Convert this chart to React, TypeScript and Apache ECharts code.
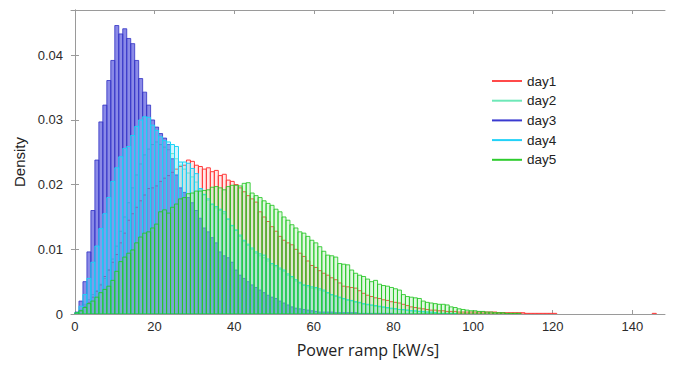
import React, { useEffect, useRef } from "react";
import * as echarts from "echarts";

// Bin width of every histogram [kW/s]; bin k spans [k, k+1]
const binWidth = 1;

const day1 = [
  0.0001, 0.0005, 0.0012, 0.0018, 0.0026, 0.0035, 0.0045, 0.0058, 0.0068, 0.0080,
  0.0092, 0.0110, 0.0125, 0.0145, 0.0155, 0.0165, 0.0175, 0.0184, 0.0194, 0.0195,
  0.0198, 0.0205, 0.0210, 0.0214, 0.0219, 0.0224, 0.0228, 0.0230, 0.0238, 0.0236,
  0.0230, 0.0228, 0.0224, 0.0226, 0.0220, 0.0222, 0.0214, 0.0216, 0.0207, 0.0205,
  0.0200, 0.0195, 0.0189, 0.0183, 0.0178, 0.0173, 0.0158, 0.0150, 0.0143, 0.0135,
  0.0128, 0.0120, 0.0114, 0.0110, 0.0107, 0.0100, 0.0094, 0.0089, 0.0082, 0.0075,
  0.0072, 0.0067, 0.0063, 0.0060, 0.0056, 0.0053, 0.0048, 0.0043, 0.0042, 0.0041,
  0.0040, 0.0036, 0.0032, 0.0029, 0.0027, 0.0025, 0.0024, 0.0022, 0.0021, 0.0019,
  0.0018, 0.0017, 0.0015, 0.0013, 0.0011, 0.0010, 0.0009, 0.0008, 0.0007, 0.0006,
  0.0006, 0.0005, 0.0005, 0.0004, 0.0004, 0.0004, 0.0003, 0.0003, 0.0003, 0.0003,
  0.0003, 0.0003, 0.0003, 0.0003, 0.0003, 0.0003, 0.0002, 0.0002, 0.0002, 0.0002,
  0.0002, 0.0002, 0.0002, 0.0001, 0.0001, 0.0001, 0.0001, 0.0001, 0.0001, 0.0001,
  0.0001, 0, 0, 0, 0, 0, 0, 0, 0, 0,
  0, 0, 0, 0, 0, 0, 0, 0, 0, 0,
  0, 0, 0, 0, 0, 0.0001,
];

const day2 = [
  0.0001, 0.0006, 0.0015, 0.0022, 0.0030, 0.0036, 0.0046, 0.0055, 0.0068, 0.0085,
  0.0105, 0.0128, 0.0150, 0.0172, 0.0195, 0.0215, 0.0232, 0.0246, 0.0255, 0.0262,
  0.0266, 0.0262, 0.0258, 0.0254, 0.0248, 0.0240, 0.0230, 0.0224, 0.0218, 0.0212,
  0.0204, 0.0192, 0.0184, 0.0176, 0.0169, 0.0164, 0.0160, 0.0155, 0.0146, 0.0136,
  0.0129, 0.0120, 0.0112, 0.0106, 0.0100, 0.0094, 0.0090, 0.0087, 0.0082, 0.0076,
  0.0073, 0.0069, 0.0066, 0.0060, 0.0056, 0.0051, 0.0047, 0.0044, 0.0042, 0.0040,
  0.0039, 0.0037, 0.0035, 0.0032, 0.0029, 0.0027, 0.0025, 0.0023, 0.0021, 0.0020,
  0.0018, 0.0017, 0.0015, 0.0014, 0.0013, 0.0012, 0.0011, 0.0010, 0.0009, 0.0008,
  0.0008, 0.0007, 0.0006, 0.0006, 0.0005, 0.0004, 0.0004, 0.0003, 0.0003, 0.0002,
  0.0002, 0.0001, 0.0001, 0.0001, 0.0001,
];

const day3 = [
  0.0003, 0.0020, 0.0050, 0.0096, 0.0160, 0.0238, 0.0297, 0.0323, 0.0361, 0.0392,
  0.0446, 0.0433, 0.0441, 0.0426, 0.0418, 0.0392, 0.0364, 0.0343, 0.0323, 0.0300,
  0.0289, 0.0279, 0.0272, 0.0262, 0.0240, 0.0215, 0.0195, 0.0188, 0.0180, 0.0172,
  0.0160, 0.0148, 0.0133, 0.0127, 0.0118, 0.0110, 0.0096, 0.0090, 0.0087, 0.0080,
  0.0068, 0.0060, 0.0055, 0.0050, 0.0045, 0.0041, 0.0037, 0.0033, 0.0029, 0.0026,
  0.0024, 0.0020, 0.0017, 0.0014, 0.0011, 0.0009, 0.0008, 0.0007, 0.0006, 0.0005,
  0.0004, 0.0003, 0.0003, 0.0003, 0.0003, 0.0002, 0.0002, 0.0002, 0.0002, 0.0002,
  0.0002, 0.0001, 0.0001, 0.0001, 0.0001, 0.0001, 0.0001, 0.0001, 0.0001, 0.0001,
];

const day4 = [
  0.0002, 0.0012, 0.0030, 0.0055, 0.0080, 0.0105, 0.0132, 0.0155, 0.0180, 0.0205,
  0.0226, 0.0243, 0.0256, 0.0259, 0.0276, 0.0290, 0.0300, 0.0305, 0.0304, 0.0292,
  0.0284, 0.0274, 0.0268, 0.0266, 0.0262, 0.0259, 0.0235, 0.0235, 0.0233, 0.0225,
  0.0217, 0.0194, 0.0185, 0.0178, 0.0170, 0.0166, 0.0162, 0.0158, 0.0147, 0.0137,
  0.0130, 0.0122, 0.0114, 0.0108, 0.0102, 0.0096, 0.0093, 0.0091, 0.0085, 0.0078,
  0.0075, 0.0071, 0.0068, 0.0062, 0.0058, 0.0053, 0.0049, 0.0045, 0.0044, 0.0042,
  0.0041, 0.0039, 0.0037, 0.0033, 0.0030, 0.0028, 0.0026, 0.0024, 0.0022, 0.0021,
  0.0019, 0.0018, 0.0016, 0.0015, 0.0014, 0.0013, 0.0012, 0.0011, 0.0010, 0.0009,
  0.0008, 0.0007, 0.0007, 0.0006, 0.0005, 0.0005, 0.0004, 0.0004, 0.0003, 0.0003,
  0.0002, 0.0001, 0.0001, 0.0001, 0.0001, 0.0001,
];

const day5 = [
  0.0002, 0.0005, 0.0010, 0.0016, 0.0020, 0.0026, 0.0033, 0.0038, 0.0043, 0.0052,
  0.0066, 0.0081, 0.0088, 0.0094, 0.0099, 0.0110, 0.0119, 0.0125, 0.0127, 0.0133,
  0.0139, 0.0158, 0.0161, 0.0156, 0.0165, 0.0170, 0.0178, 0.0180, 0.0186, 0.0187,
  0.0190, 0.0190, 0.0191, 0.0192, 0.0196, 0.0197, 0.0195, 0.0192, 0.0197, 0.0199,
  0.0199, 0.0198, 0.0202, 0.0203, 0.0187, 0.0183, 0.0180, 0.0175, 0.0171, 0.0168,
  0.0162, 0.0158, 0.0150, 0.0145, 0.0138, 0.0133, 0.0127, 0.0125, 0.0120, 0.0114,
  0.0110, 0.0104, 0.0097, 0.0091, 0.0090, 0.0088, 0.0078, 0.0077, 0.0076, 0.0068,
  0.0063, 0.0060, 0.0058, 0.0054, 0.0050, 0.0052, 0.0046, 0.0044, 0.0043, 0.0041,
  0.0039, 0.0037, 0.0030, 0.0027, 0.0026, 0.0025, 0.0024, 0.0020, 0.0018, 0.0017,
  0.0016, 0.0015, 0.0015, 0.0014, 0.0011, 0.0010, 0.0008, 0.0007, 0.0006, 0.0005,
  0.0005, 0.0004, 0.0004, 0.0003, 0.0003, 0.0002, 0.0002, 0.0002, 0.0001, 0.0001,
  0.0001, 0.0001,
];

const seriesNames = ["day1", "day2", "day3", "day4", "day5"];
const seriesValues = [day1, day2, day3, day4, day5];
const edgeColors = ["#ff3b3b", "#52e6a8", "#3030c4", "#1cd4f6", "#22c622"];
const legendColors = ["#ff4a4a", "#6ee8b8", "#3a3ad0", "#22d2f8", "#2ecc2e"];
const faceColors = [
  "rgba(255,120,120,0.16)",
  "rgba(110,235,185,0.14)",
  "rgba(60,60,215,0.6)",
  "rgba(90,215,250,0.28)",
  "rgba(130,225,130,0.24)",
];
const edgeWidths = [1, 0.8, 0.8, 1, 0.85];

const xTicks = [0, 20, 40, 60, 80, 100, 120, 140];
const yTicks = [0, 0.01, 0.02, 0.03, 0.04];
const xMin = -1;
const xMax = 148.2;
const yMin = 0;
const yMax = 0.047;

const axisGray = "#9a9a9a";
const labelColor = "#2b2b2b";

function histSeries(name: string, values: number[], edge: string, face: string, lw: number) {
  const data = values
    .map((v, i) => [i * binWidth, (i + 1) * binWidth, v])
    .filter((d) => d[2] > 0);
  return {
    type: "custom",
    name,
    color: edge,
    xAxisIndex: 0,
    yAxisIndex: 0,
    clip: true,
    encode: { x: [0, 1], y: 2 },
    data,
    renderItem: (params: any, api: any) => {
      const x0 = api.value(0);
      const x1 = api.value(1);
      const y = api.value(2);
      const pTop = api.coord([x0, y]);
      const pBot = api.coord([x1, 0]);
      return {
        type: "rect",
        shape: {
          x: pTop[0],
          y: pTop[1],
          width: pBot[0] - pTop[0],
          height: pBot[1] - pTop[1],
        },
        style: { fill: face, stroke: edge, lineWidth: lw },
      };
    },
  };
}

export default function App() {
  const ref = useRef<HTMLDivElement>(null);

  useEffect(() => {
    if (!ref.current) return;
    const chart = echarts.init(ref.current, null, { renderer: "svg" });

    const tickCommon = {
      show: true,
      inside: true,
      length: 4,
      lineStyle: { color: axisGray, width: 1 },
    };

    chart.setOption({
      animation: false,
      backgroundColor: "#ffffff",
      grid: { left: 71, right: 9, top: 10, bottom: 60, containLabel: false },
      legend: {
        orient: "vertical",
        left: 487,
        top: 69,
        itemWidth: 30,
        itemHeight: 2,
        itemGap: 5.7,
        selectedMode: false,
        textStyle: {
          fontFamily: "Liberation Sans, Arial, sans-serif",
          fontSize: 13.5,
          color: "#222222",
          lineHeight: 14,
        },
        data: seriesNames.map((n, i) => ({
          name: n,
          icon: "rect",
          itemStyle: { color: legendColors[i] },
        })),
      },
      xAxis: [
        {
          type: "value",
          position: "bottom",
          min: xMin,
          max: xMax,
          splitNumber: 7,
          name: "Power ramp [kW/s]",
          nameLocation: "middle",
          nameGap: 28,
          nameTextStyle: {
            fontFamily: "Open Sans, sans-serif",
            fontSize: 16,
            color: "#222222",
          },
          axisLine: { show: true, onZero: false, lineStyle: { color: axisGray, width: 1 } },
          axisTick: { ...tickCommon, customValues: xTicks },
          axisLabel: {
            customValues: xTicks,
            margin: 6,
            fontFamily: "Liberation Sans, Arial, sans-serif",
            fontSize: 13,
            color: labelColor,
          },
          splitLine: { show: false },
        },
        {
          type: "value",
          position: "top",
          min: xMin,
          max: xMax,
          splitNumber: 7,
          axisLine: { show: true, onZero: false, lineStyle: { color: axisGray, width: 1 } },
          axisTick: { ...tickCommon, customValues: xTicks },
          axisLabel: { show: false },
          splitLine: { show: false },
        },
      ],
      yAxis: [
        {
          type: "value",
          position: "left",
          min: yMin,
          max: yMax,
          name: "Density",
          nameLocation: "middle",
          nameGap: 41,
          nameTextStyle: {
            fontFamily: "Liberation Sans, Arial, sans-serif",
            fontSize: 15,
            color: "#222222",
          },
          axisLine: { show: true, lineStyle: { color: axisGray, width: 1 } },
          axisTick: { ...tickCommon, customValues: yTicks },
          axisLabel: {
            customValues: yTicks,
            margin: 8,
            fontFamily: "Liberation Sans, Arial, sans-serif",
            fontSize: 13,
            color: labelColor,
            formatter: (v: number) => (v === 0 ? "0" : String(+v.toFixed(2))),
          },
          splitLine: { show: false },
        },
        {
          type: "value",
          position: "right",
          min: yMin,
          max: yMax,
          axisLine: { show: true, lineStyle: { color: axisGray, width: 1 } },
          axisTick: { ...tickCommon, customValues: yTicks },
          axisLabel: { show: false },
          splitLine: { show: false },
        },
      ],
      series: seriesNames.map((n, i) =>
        histSeries(n, seriesValues[i], edgeColors[i], faceColors[i], edgeWidths[i])
      ),
    });

    return () => {
      chart.dispose();
    };
  }, []);

  return (
    <div
      ref={ref}
      style={{ position: "fixed", left: 0, top: 0, width: 674, height: 374, background: "#fff" }}
    />
  );
}
